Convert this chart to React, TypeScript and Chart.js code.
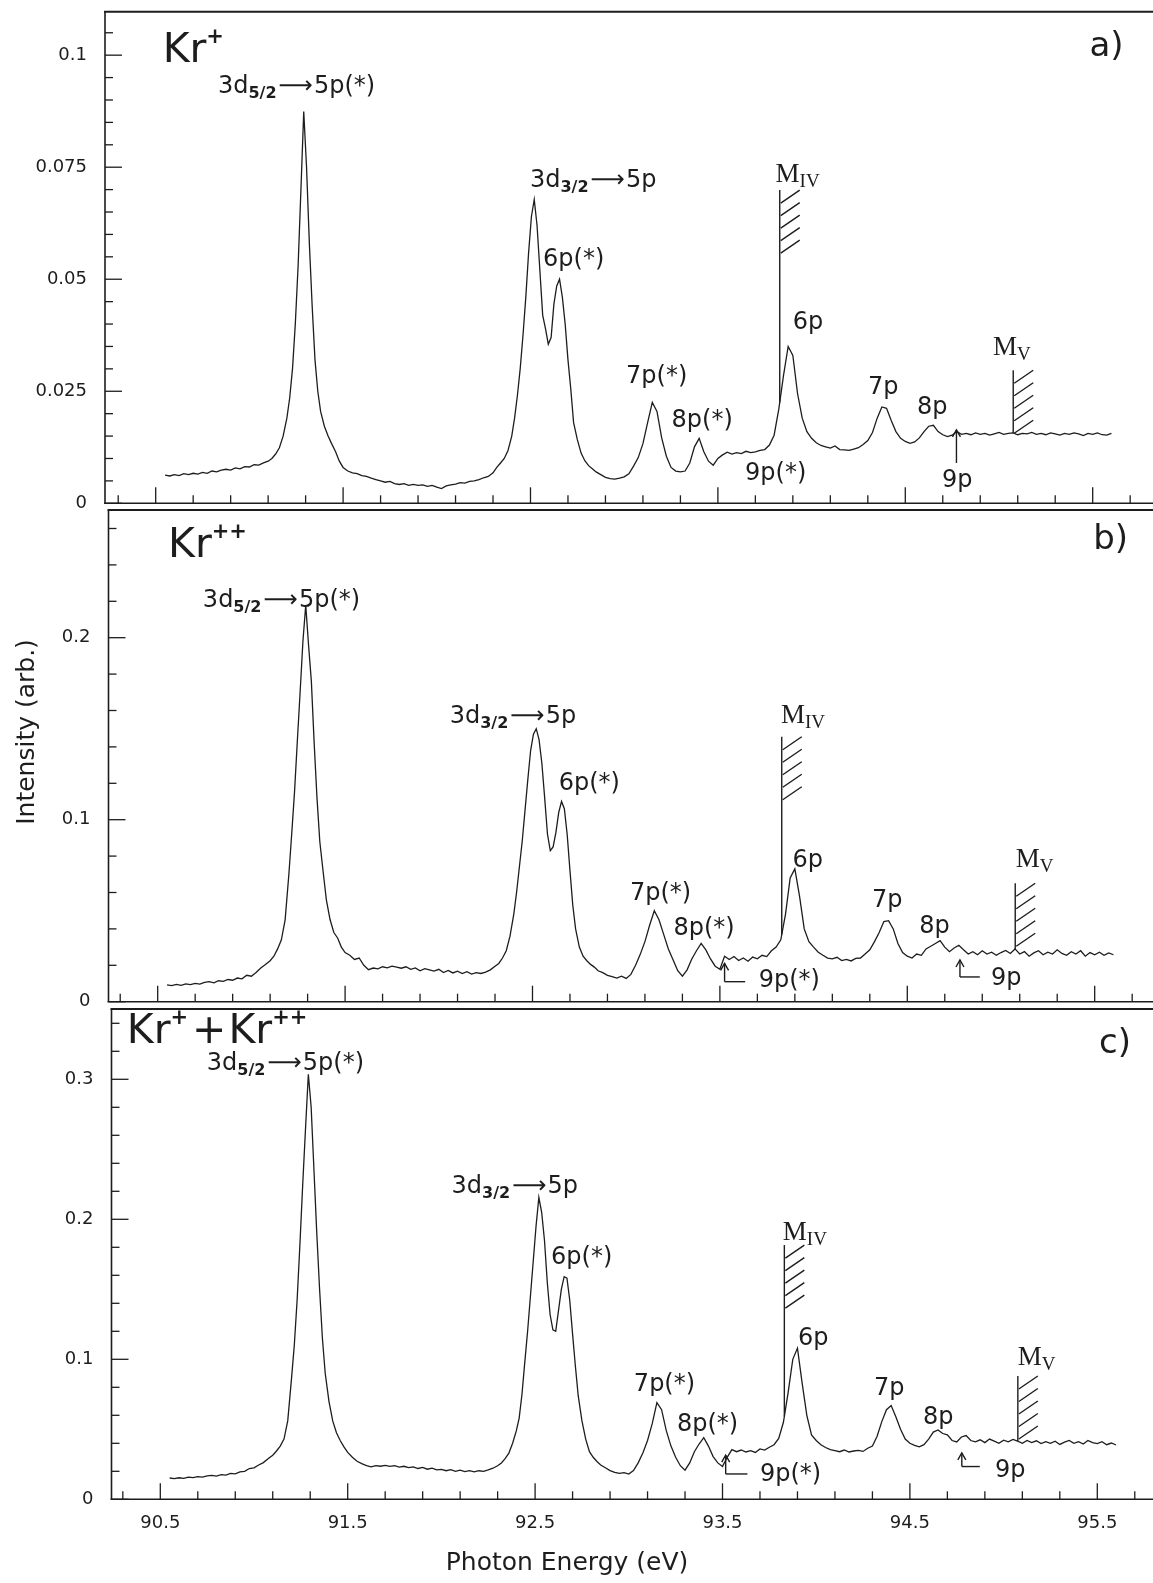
import React, { useEffect, useRef } from "react";
import { Chart, registerables } from "chart.js";

Chart.register(...registerables);

const SANS = '"DejaVu Sans", Verdana, sans-serif';
const SERIF = '"Liberation Serif", "DejaVu Serif", serif';
const INK = "#1d1d1d";
const CANVAS_W = 1190;
const PX_PER_EV = 187.4;

// Photon energy grid of the scan (eV), finer around the 3d resonances
const energy = [
  90.55, 90.575, 90.6, 90.625, 90.65, 90.675, 90.7, 90.725, 90.75, 90.775, 90.8, 90.825, 90.85, 90.875, 90.9, 90.925, 90.95, 90.975, 91.0, 91.025, 91.05, 91.075, 91.1,
  91.12, 91.14, 91.16, 91.18, 91.2, 91.215, 91.23, 91.245, 91.26, 91.275, 91.29, 91.305, 91.32, 91.335, 91.35, 91.365, 91.38, 91.4, 91.42, 91.44, 91.46, 91.48, 91.5,
  91.525, 91.55, 91.575, 91.6, 91.625, 91.65, 91.675, 91.7, 91.725, 91.75, 91.775, 91.8, 91.825, 91.85, 91.875, 91.9, 91.925, 91.95, 91.975, 92.0, 92.025, 92.05, 92.075, 92.1, 92.125, 92.15, 92.175, 92.2, 92.225, 92.25, 92.275, 92.3,
  92.32, 92.34, 92.36, 92.38, 92.4, 92.415, 92.43, 92.445, 92.46, 92.475, 92.49, 92.505, 92.52, 92.535, 92.55, 92.565, 92.58, 92.595, 92.61, 92.625, 92.64, 92.655, 92.67, 92.685, 92.7, 92.715, 92.73, 92.75, 92.77, 92.79, 92.81, 92.83, 92.85,
  92.875, 92.9, 92.925, 92.95, 92.975, 93.0, 93.025, 93.05, 93.075, 93.1,
  93.125, 93.15, 93.175, 93.2, 93.225, 93.25, 93.275, 93.3, 93.325, 93.35,
  93.375, 93.4, 93.425, 93.45, 93.475, 93.5, 93.525, 93.55, 93.575, 93.6,
  93.625, 93.65, 93.675, 93.7, 93.725, 93.75, 93.775, 93.8, 93.825, 93.85,
  93.875, 93.9, 93.925, 93.95, 93.975, 94.0, 94.025, 94.05, 94.075, 94.1,
  94.125, 94.15, 94.175, 94.2, 94.225, 94.25, 94.275, 94.3, 94.325, 94.35,
  94.375, 94.4, 94.425, 94.45, 94.475, 94.5, 94.525, 94.55, 94.575, 94.6,
  94.625, 94.65, 94.675, 94.7, 94.725, 94.75, 94.775, 94.8, 94.825, 94.85,
  94.875, 94.9, 94.925, 94.95, 94.975, 95.0, 95.025, 95.05, 95.075, 95.1,
  95.125, 95.15, 95.175, 95.2, 95.225, 95.25, 95.275, 95.3, 95.325, 95.35,
  95.375, 95.4, 95.425, 95.45, 95.475, 95.5, 95.525, 95.55, 95.575, 95.6,
];

// Kr+ ion yield
const krPlus = [
  0.0063, 0.0061, 0.0064, 0.0062, 0.0066, 0.0064, 0.0067, 0.0065, 0.0069, 0.0067, 0.0072, 0.007, 0.0074, 0.0076, 0.0074, 0.0079, 0.0077, 0.0082, 0.0081, 0.0086, 0.0085, 0.009, 0.0094,
  0.01, 0.011, 0.0124, 0.015, 0.019, 0.0235, 0.03, 0.04, 0.053, 0.07, 0.0874, 0.075, 0.058, 0.044, 0.032, 0.025, 0.0205, 0.0172, 0.015, 0.0132, 0.0115, 0.0094, 0.008,
  0.0072, 0.0068, 0.0066, 0.0062, 0.006, 0.0056, 0.0053, 0.005, 0.0047, 0.0049, 0.0044, 0.0042, 0.0044, 0.004, 0.0042, 0.004, 0.0041, 0.0038, 0.004, 0.0036, 0.0033, 0.0039, 0.0041, 0.0043, 0.0046, 0.0045, 0.0049, 0.005, 0.0053, 0.0057, 0.006, 0.0068,
  0.008, 0.009, 0.01, 0.0118, 0.015, 0.019, 0.024, 0.03, 0.0375, 0.046, 0.056, 0.064, 0.0678, 0.062, 0.052, 0.042, 0.039, 0.0355, 0.037, 0.0445, 0.0485, 0.05, 0.046, 0.04, 0.032, 0.0255, 0.018, 0.0142, 0.0112, 0.0095, 0.0084, 0.0077, 0.007,
  0.0064, 0.0058, 0.0055, 0.0054, 0.0056, 0.0059, 0.0066, 0.0083, 0.0102, 0.0133,
  0.018, 0.0225, 0.0205, 0.0146, 0.0105, 0.008, 0.0072, 0.007, 0.0072, 0.009,
  0.0126, 0.0145, 0.0115, 0.0094, 0.0085, 0.01, 0.0108, 0.0114, 0.011, 0.0113,
  0.0111, 0.0116, 0.0113, 0.0115, 0.0118, 0.012, 0.013, 0.0152, 0.021, 0.0285,
  0.035, 0.033, 0.0245, 0.019, 0.016, 0.0145, 0.0135, 0.0129, 0.0126, 0.0123,
  0.0128, 0.012, 0.0119, 0.0118, 0.0121, 0.0124, 0.0131, 0.014, 0.0158, 0.019,
  0.0215, 0.0212, 0.0185, 0.016, 0.0145, 0.0138, 0.0134, 0.0137, 0.0146, 0.016,
  0.0172, 0.0174, 0.016, 0.0153, 0.0149, 0.0152, 0.016, 0.0154, 0.0156, 0.0153,
  0.0157, 0.0154, 0.0156, 0.0152, 0.0155, 0.0158, 0.0154, 0.0156, 0.0157, 0.0153,
  0.0156, 0.0155, 0.0158, 0.0154, 0.0156, 0.0153, 0.0157, 0.0155, 0.0152, 0.0156,
  0.0154, 0.0157, 0.0155, 0.0151, 0.0156, 0.0154, 0.0157, 0.0153, 0.0152, 0.0156,
];

// Kr++ ion yield
const krPlusPlus = [
  0.0092, 0.0088, 0.0095, 0.009, 0.0098, 0.0094, 0.0101, 0.0097, 0.0106, 0.011, 0.0104, 0.0115, 0.0112, 0.0122, 0.0118, 0.013, 0.0126, 0.0145, 0.014, 0.016, 0.0185, 0.0205, 0.0225,
  0.025, 0.029, 0.034, 0.045, 0.07, 0.092, 0.115, 0.143, 0.17, 0.198, 0.218, 0.196, 0.176, 0.142, 0.112, 0.088, 0.074, 0.056, 0.045, 0.038, 0.035, 0.03, 0.027,
  0.0255, 0.0232, 0.024, 0.02, 0.0176, 0.0185, 0.018, 0.0192, 0.0186, 0.0195, 0.019, 0.0184, 0.0192, 0.0178, 0.0186, 0.017, 0.0182, 0.0175, 0.0168, 0.0178, 0.016, 0.0172, 0.0158, 0.0168, 0.0155, 0.0165, 0.0152, 0.016, 0.0155, 0.0163, 0.0175, 0.0195,
  0.021, 0.024, 0.028, 0.036, 0.048, 0.06, 0.074, 0.088, 0.105, 0.122, 0.138, 0.147, 0.15, 0.144, 0.131, 0.112, 0.092, 0.083, 0.085, 0.093, 0.104, 0.11, 0.106, 0.092, 0.072, 0.053, 0.04, 0.03, 0.025, 0.0225, 0.0205, 0.019, 0.017,
  0.016, 0.0145, 0.0138, 0.013, 0.014, 0.0128, 0.015, 0.02, 0.026, 0.033,
  0.042, 0.05, 0.045, 0.037, 0.029, 0.023, 0.017, 0.014, 0.0175, 0.0235,
  0.028, 0.032, 0.0285, 0.0235, 0.0195, 0.0178, 0.025, 0.0232, 0.0248, 0.0226,
  0.024, 0.0222, 0.0245, 0.0236, 0.0255, 0.0248, 0.028, 0.03, 0.034, 0.048,
  0.068, 0.073, 0.058, 0.04, 0.033, 0.03, 0.0272, 0.0255, 0.024, 0.0235,
  0.0244, 0.0226, 0.0232, 0.0224, 0.0238, 0.024, 0.0262, 0.0285, 0.033, 0.038,
  0.044, 0.0445, 0.04, 0.032, 0.027, 0.025, 0.024, 0.0262, 0.0255, 0.029,
  0.0305, 0.032, 0.0335, 0.03, 0.0275, 0.0295, 0.031, 0.0285, 0.0262, 0.0275,
  0.0258, 0.028, 0.0262, 0.0272, 0.0255, 0.027, 0.0282, 0.0265, 0.029, 0.0262,
  0.0275, 0.025, 0.0268, 0.028, 0.0258, 0.0272, 0.0262, 0.0285, 0.0265, 0.0255,
  0.0275, 0.0262, 0.028, 0.025, 0.027, 0.0258, 0.0272, 0.0255, 0.0268, 0.0258,
];

// Kr+ + Kr++ summed yield
const krSum = [
  0.0152, 0.0148, 0.0154, 0.015, 0.0158, 0.0155, 0.0162, 0.0159, 0.0168, 0.0171, 0.0166, 0.0176, 0.0173, 0.0185, 0.0182, 0.0196, 0.02, 0.022, 0.0225, 0.0245, 0.0262, 0.029, 0.0315,
  0.0345, 0.038, 0.043, 0.056, 0.086, 0.11, 0.142, 0.182, 0.225, 0.265, 0.3036, 0.28, 0.235, 0.19, 0.15, 0.115, 0.09, 0.07, 0.056, 0.0475, 0.042, 0.0375, 0.0335,
  0.03, 0.0272, 0.0255, 0.024, 0.0232, 0.024, 0.0236, 0.0242, 0.0235, 0.024, 0.023, 0.0236, 0.0226, 0.0232, 0.022, 0.0228, 0.0215, 0.0222, 0.021, 0.0214, 0.0204, 0.0212, 0.02, 0.0208, 0.0198, 0.0205, 0.0196, 0.0204, 0.02, 0.021, 0.0222, 0.024,
  0.026, 0.029, 0.033, 0.04, 0.049, 0.058, 0.075, 0.098, 0.12, 0.145, 0.17, 0.195, 0.2157, 0.205, 0.185, 0.155, 0.132, 0.121, 0.12, 0.135, 0.15, 0.159, 0.158, 0.142, 0.118, 0.095, 0.074, 0.056, 0.043, 0.034, 0.03, 0.027, 0.0245,
  0.0225, 0.0205, 0.0192, 0.0185, 0.019, 0.018, 0.0205, 0.026, 0.033, 0.042,
  0.054, 0.069, 0.064, 0.049, 0.038, 0.03, 0.024, 0.0208, 0.026, 0.034,
  0.0395, 0.044, 0.038, 0.0305, 0.026, 0.0235, 0.03, 0.0355, 0.034, 0.0352,
  0.0338, 0.0348, 0.0335, 0.036, 0.0352, 0.0372, 0.039, 0.0435, 0.055, 0.076,
  0.1, 0.108, 0.083, 0.06, 0.046, 0.042, 0.039, 0.037, 0.0355, 0.0348,
  0.034, 0.0352, 0.0338, 0.0345, 0.035, 0.0342, 0.0365, 0.038, 0.045, 0.0555,
  0.064, 0.067, 0.059, 0.05, 0.043, 0.04, 0.0385, 0.0375, 0.039, 0.043,
  0.048, 0.0495, 0.047, 0.046, 0.042, 0.041, 0.0445, 0.0455, 0.042, 0.041,
  0.0425, 0.0405, 0.043, 0.0415, 0.04, 0.0422, 0.041, 0.0428, 0.0415, 0.04,
  0.042, 0.0405, 0.0418, 0.0398, 0.0412, 0.04, 0.0415, 0.0392, 0.0408, 0.042,
  0.04, 0.0412, 0.0395, 0.042, 0.0405, 0.0398, 0.0412, 0.039, 0.0402, 0.0388,
];

// Energy axis tick marks and the ones that carry a label
const xTickValues = [
  90.3, 90.5, 90.7, 90.9, 91.1, 91.3, 91.5, 91.7, 91.9, 92.1, 92.3, 92.5, 92.7, 92.9,
  93.1, 93.3, 93.5, 93.7, 93.9, 94.1, 94.3, 94.5, 94.7, 94.9, 95.1, 95.3, 95.5, 95.7,
];
const xLabelledTicks = [90.5, 91.5, 92.5, 93.5, 94.5, 95.5];

// 3d ionisation thresholds
const EDGE_M4 = 93.83;
const EDGE_M5 = 95.076;

type Note =
  | { kind: "text"; text: string; x: number; y: number }
  | { kind: "transition"; from: string; j: string; to: string; x: number; y: number }
  | { kind: "ion"; ions: string[]; x: number; y: number }
  | { kind: "tag"; text: string; x: number; y: number }
  | { kind: "edge"; sub: string; at: number; top: number; x: number; y: number }
  | { kind: "arrow"; at: number; top: number; bottom: number; toX?: number };

interface Panel {
  key: string;
  values: number[];
  yMax: number;
  yStep: number;
  yMajor: number;
  canvasTop: number;
  canvasHeight: number;
  plotTop: number;
  plotBottom: number;
  plotLeft: number;
  xMin: number;
  withXAxis: boolean;
  notes: Note[];
}

const notesA: Note[] = [
  { kind: "ion", ions: ["+"], x: 90.537, y: 0.0985 },
  { kind: "tag", text: "a)", x: 95.483, y: 0.0998 },
  { kind: "transition", from: "3d", j: "5/2", to: "5p(*)", x: 90.832, y: 0.0916 },
  { kind: "transition", from: "3d", j: "3/2", to: "5p", x: 92.497, y: 0.0706 },
  { kind: "text", text: "6p(*)", x: 92.567, y: 0.0529 },
  { kind: "text", text: "7p(*)", x: 93.01, y: 0.0268 },
  { kind: "text", text: "8p(*)", x: 93.253, y: 0.017 },
  { kind: "text", text: "9p(*)", x: 93.645, y: 0.0052 },
  { kind: "text", text: "6p", x: 93.899, y: 0.039 },
  { kind: "text", text: "7p", x: 94.301, y: 0.0245 },
  { kind: "text", text: "8p", x: 94.562, y: 0.02 },
  { kind: "text", text: "9p", x: 94.696, y: 0.0036 },
  { kind: "edge", sub: "IV", at: EDGE_M4, top: 0.0699, x: 93.808, y: 0.0717 },
  { kind: "edge", sub: "V", at: EDGE_M5, top: 0.0297, x: 94.968, y: 0.0331 },
  { kind: "arrow", at: 94.773, top: 0.0164, bottom: 0.009 },
];

const notesB: Note[] = [
  { kind: "ion", ions: ["++"], x: 90.555, y: 0.2445 },
  { kind: "tag", text: "b)", x: 95.492, y: 0.2487 },
  { kind: "transition", from: "3d", j: "5/2", to: "5p(*)", x: 90.741, y: 0.2169 },
  { kind: "transition", from: "3d", j: "3/2", to: "5p", x: 92.058, y: 0.1529 },
  { kind: "text", text: "6p(*)", x: 92.64, y: 0.1163 },
  { kind: "text", text: "7p(*)", x: 93.02, y: 0.0559 },
  { kind: "text", text: "8p(*)", x: 93.252, y: 0.0366 },
  { kind: "text", text: "9p(*)", x: 93.707, y: 0.0081 },
  { kind: "text", text: "6p", x: 93.888, y: 0.074 },
  { kind: "text", text: "7p", x: 94.312, y: 0.052 },
  { kind: "text", text: "8p", x: 94.564, y: 0.0377 },
  { kind: "text", text: "9p", x: 94.947, y: 0.0092 },
  { kind: "edge", sub: "IV", at: EDGE_M4, top: 0.1456, x: 93.826, y: 0.1531 },
  { kind: "edge", sub: "V", at: EDGE_M5, top: 0.0651, x: 95.079, y: 0.0742 },
  { kind: "arrow", at: 93.525, top: 0.0211, bottom: 0.011, toX: 93.635 },
  { kind: "arrow", at: 94.781, top: 0.0229, bottom: 0.0136, toX: 94.887 },
];

const notesC: Note[] = [
  { kind: "ion", ions: ["+", "++"], x: 90.321, y: 0.3259 },
  { kind: "tag", text: "c)", x: 95.509, y: 0.3188 },
  { kind: "transition", from: "3d", j: "5/2", to: "5p(*)", x: 90.748, y: 0.3066 },
  { kind: "transition", from: "3d", j: "3/2", to: "5p", x: 92.054, y: 0.2188 },
  { kind: "text", text: "6p(*)", x: 92.585, y: 0.1681 },
  { kind: "text", text: "7p(*)", x: 93.027, y: 0.0774 },
  { kind: "text", text: "8p(*)", x: 93.257, y: 0.0488 },
  { kind: "text", text: "9p(*)", x: 93.7, y: 0.0131 },
  { kind: "text", text: "6p", x: 93.903, y: 0.1102 },
  { kind: "text", text: "7p", x: 94.308, y: 0.0745 },
  { kind: "text", text: "8p", x: 94.57, y: 0.0538 },
  { kind: "text", text: "9p", x: 94.954, y: 0.0159 },
  { kind: "edge", sub: "IV", at: EDGE_M4, top: 0.1816, x: 93.822, y: 0.1855 },
  { kind: "edge", sub: "V", at: EDGE_M5, top: 0.0881, x: 95.075, y: 0.0962 },
  { kind: "arrow", at: 93.517, top: 0.0316, bottom: 0.0181, toX: 93.633 },
  { kind: "arrow", at: 94.777, top: 0.0331, bottom: 0.0234, toX: 94.873 },
];

const panels: Panel[] = [
  {
    key: "a", values: krPlus, yMax: 0.1097, yStep: 0.005, yMajor: 0.025,
    canvasTop: 0, canvasHeight: 522, plotTop: 11.7, plotBottom: 503.3, plotLeft: 105,
    xMin: 90.2295, withXAxis: false, notes: notesA,
  },
  {
    key: "b", values: krPlusPlus, yMax: 0.27016, yStep: 0.02, yMajor: 0.1,
    canvasTop: 498, canvasHeight: 522, plotTop: 510, plotBottom: 1001.7, plotLeft: 108.5,
    xMin: 90.2375, withXAxis: false, notes: notesB,
  },
  {
    key: "c", values: krSum, yMax: 0.35021, yStep: 0.02, yMajor: 0.1,
    canvasTop: 995, canvasHeight: 588, plotTop: 1009, plotBottom: 1499.3, plotLeft: 111.5,
    xMin: 90.2396, withXAxis: true, notes: notesC,
  },
];

const LABEL_FONT = `24px ${SANS}`;
const SUB_FONT = `bold 16px ${SANS}`;

type Piece = { t: string; f: string; dy?: number; gap?: number };

function drawPieces(ctx: CanvasRenderingContext2D, x: number, y: number, pieces: Piece[]) {
  let cx = x;
  for (const p of pieces) {
    ctx.font = p.f;
    ctx.fillText(p.t, cx, y + (p.dy ?? 0));
    cx += ctx.measureText(p.t).width + (p.gap ?? 0);
  }
}

function curveAt(values: number[], e: number): number {
  for (let i = 0; i < energy.length - 1; i++) {
    if (e >= energy[i] && e <= energy[i + 1]) {
      const t = (e - energy[i]) / (energy[i + 1] - energy[i]);
      return values[i] + t * (values[i + 1] - values[i]);
    }
  }
  return values[values.length - 1];
}

function isMultiple(v: number, step: number) {
  const r = v / step;
  return Math.abs(r - Math.round(r)) < 1e-6;
}

function seg(ctx: CanvasRenderingContext2D, x0: number, y0: number, x1: number, y1: number) {
  ctx.beginPath();
  ctx.moveTo(x0, y0);
  ctx.lineTo(x1, y1);
  ctx.stroke();
}

function decorations(panel: Panel) {
  return {
    id: "decor-" + panel.key,
    afterDatasetsDraw(chart: any) {
      const { ctx, chartArea: a, scales } = chart;
      const xs = scales.x;
      const ys = scales.y;
      const X = (v: number) => xs.getPixelForValue(v);
      const Y = (v: number) => ys.getPixelForValue(v);
      ctx.save();
      ctx.strokeStyle = INK;
      ctx.fillStyle = INK;
      ctx.lineCap = "butt";

      // frame
      ctx.lineWidth = 2;
      seg(ctx, a.left - 1, a.top, a.right + 10, a.top);
      ctx.lineWidth = 1.6;
      seg(ctx, a.left, a.top, a.left, a.bottom);
      seg(ctx, a.left - 1, a.bottom, a.right + 10, a.bottom);

      // inward tick marks
      ctx.lineWidth = 1.3;
      for (const t of ys.ticks) {
        if (!isMultiple(t.value, panel.yStep)) continue;
        const len = isMultiple(t.value, panel.yMajor) ? 17 : 8;
        const py = Y(t.value);
        seg(ctx, a.left, py, a.left + len, py);
      }
      for (const v of xTickValues) {
        const len = xLabelledTicks.includes(v) ? 16 : 8;
        const px = X(v);
        seg(ctx, px, a.bottom, px, a.bottom - len);
      }

      ctx.textAlign = "left";
      ctx.textBaseline = "alphabetic";
      for (const n of panel.notes) {
        if (n.kind === "text") {
          drawPieces(ctx, X(n.x), Y(n.y), [{ t: n.text, f: LABEL_FONT }]);
        } else if (n.kind === "transition") {
          drawPieces(ctx, X(n.x), Y(n.y), [
            { t: n.from, f: LABEL_FONT },
            { t: n.j, f: SUB_FONT, dy: 5, gap: 2 },
            { t: "\u27F6", f: LABEL_FONT, gap: 1 },
            { t: n.to, f: LABEL_FONT },
          ]);
        } else if (n.kind === "ion") {
          const pieces: Piece[] = [];
          n.ions.forEach((charge, i) => {
            if (i > 0) pieces.push({ t: "+", f: `41px ${SANS}`, gap: 2 });
            pieces.push({ t: "Kr", f: `41px ${SANS}` });
            pieces.push({ t: charge, f: `bold 21px ${SANS}`, dy: -19, gap: 4 });
          });
          drawPieces(ctx, X(n.x), Y(n.y), pieces);
        } else if (n.kind === "tag") {
          drawPieces(ctx, X(n.x), Y(n.y), [{ t: n.text, f: `34px ${SANS}` }]);
        } else if (n.kind === "edge") {
          drawPieces(ctx, X(n.x), Y(n.y), [
            { t: "M", f: `27px ${SERIF}` },
            { t: n.sub, f: `19px ${SERIF}`, dy: 5 },
          ]);
          const px = X(n.at);
          const top = Y(n.top);
          const bottom = Y(curveAt(panel.values, n.at));
          ctx.lineWidth = 1.4;
          seg(ctx, px, top, px, bottom);
          for (let i = 0; i < 5; i++) {
            const y0 = top + 13 + 12.5 * i;
            seg(ctx, px + 1, y0, px + 20, y0 - 13);
          }
        } else if (n.kind === "arrow") {
          const px = X(n.at);
          const top = Y(n.top);
          const bottom = Y(n.bottom);
          ctx.lineWidth = 1.4;
          seg(ctx, px, top, px, bottom);
          if (n.toX !== undefined) seg(ctx, px, bottom, X(n.toX), bottom);
          ctx.beginPath();
          ctx.moveTo(px - 4, top + 7);
          ctx.lineTo(px, top);
          ctx.lineTo(px + 4, top + 7);
          ctx.stroke();
        }
      }

      // axis titles
      ctx.font = `25px ${SANS}`;
      ctx.textAlign = "center";
      ctx.textBaseline = "middle";
      if (panel.key === "b") {
        ctx.save();
        ctx.translate(27, 732 - panel.canvasTop);
        ctx.rotate(-Math.PI / 2);
        ctx.fillText("Intensity (arb.)", 0, 0);
        ctx.restore();
      }
      if (panel.key === "c") {
        ctx.fillText("Photon Energy (eV)", 567, 1563 - panel.canvasTop);
      }
      ctx.restore();
    },
  };
}

function buildConfig(panel: Panel): any {
  const xMax = panel.xMin + (CANVAS_W - panel.plotLeft) / PX_PER_EV;
  const canvasBottom = panel.canvasTop + panel.canvasHeight;
  const tickFont = { family: SANS, size: 18 };
  return {
    type: "line",
    data: {
      datasets: [
        {
          data: energy.map((e, i) => ({ x: e, y: panel.values[i] })),
          borderColor: INK,
          borderWidth: 1.3,
          pointRadius: 0,
          fill: false,
          tension: 0,
        },
      ],
    },
    options: {
      animation: false,
      responsive: false,
      devicePixelRatio: 1,
      events: [],
      layout: {
        padding: {
          top: panel.plotTop - panel.canvasTop,
          bottom: panel.withXAxis ? 0 : canvasBottom - panel.plotBottom,
          left: 0,
          right: 0,
        },
      },
      plugins: { legend: { display: false }, tooltip: { enabled: false }, title: { display: false } },
      scales: {
        x: {
          type: "linear",
          display: panel.withXAxis,
          min: panel.xMin,
          max: xMax,
          grid: { display: false, drawTicks: false },
          border: { display: false },
          afterBuildTicks: (s: any) => {
            s.ticks = xTickValues.map((v) => ({ value: v }));
          },
          afterFit: (s: any) => {
            s.height = panel.withXAxis ? canvasBottom - panel.plotBottom : 0;
            s.paddingLeft = 0;
            s.paddingRight = 0;
          },
          ticks: {
            autoSkip: false,
            maxRotation: 0,
            padding: 13,
            color: INK,
            font: tickFont,
            callback: (v: number) =>
              xLabelledTicks.some((m) => Math.abs(m - v) < 1e-6) ? v.toFixed(1) : "",
          },
        },
        y: {
          type: "linear",
          min: 0,
          max: panel.yMax,
          grid: { display: false, drawTicks: false },
          border: { display: false },
          afterFit: (s: any) => {
            s.width = panel.plotLeft;
            s.paddingTop = 0;
            s.paddingBottom = 0;
          },
          ticks: {
            stepSize: panel.yStep,
            includeBounds: false,
            autoSkip: false,
            padding: 18,
            color: INK,
            font: tickFont,
            callback: (v: number) =>
              isMultiple(v, panel.yMajor) ? String(Number(v.toFixed(3))) : "",
          },
        },
      },
    },
    plugins: [decorations(panel)],
  };
}

function PanelChart({ panel }: { panel: Panel }) {
  const ref = useRef<HTMLCanvasElement | null>(null);
  useEffect(() => {
    if (!ref.current) return;
    const chart = new Chart(ref.current, buildConfig(panel));
    return () => chart.destroy();
  }, [panel]);
  return (
    <canvas
      ref={ref}
      width={CANVAS_W}
      height={panel.canvasHeight}
      style={{ position: "absolute", left: 0, top: panel.canvasTop, width: CANVAS_W, height: panel.canvasHeight }}
    />
  );
}

export default function App() {
  return (
    <div
      style={{
        position: "absolute",
        left: 0,
        top: 0,
        width: 1153,
        height: 1583,
        overflow: "hidden",
        background: "#ffffff",
      }}
    >
      {panels.map((p) => (
        <PanelChart key={p.key} panel={p} />
      ))}
    </div>
  );
}
